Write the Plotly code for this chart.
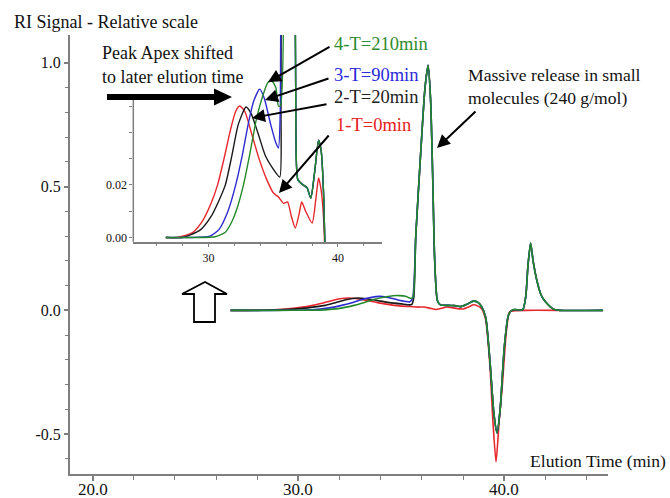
import plotly.graph_objects as go

# ---------------- data (elution time in min, RI signal relative) ----------------
red_t = [26.7, 27.5, 28.0, 28.8, 29.5, 30.2, 30.7, 31.2, 31.7, 32.1, 32.4, 32.8, 33.3, 33.9, 34.5,
         35.0, 35.4, 35.8, 36.1, 36.4, 36.7, 37.0, 37.2, 37.5, 38.0, 38.3, 38.5, 38.7, 38.9, 39.1,
         39.3, 39.45, 39.6, 39.75, 39.9, 40.1, 40.26, 40.5, 41.0, 42.7]
red_v = [0, 0, 0.0005, 0.002, 0.006, 0.013, 0.02, 0.03, 0.041, 0.048, 0.050, 0.048, 0.040, 0.030, 0.022,
         0.017, 0.0154, 0.013, 0.0135, 0.008, 0.0036, 0.009, 0.0135, 0.010, 0.0055, 0.015, 0.0226, 0.018, 0.006, -0.04,
         -0.22, -0.45, -0.612, -0.45, -0.31, -0.087, -0.006, -0.002, 0, 0]

late_t = [35.7, 35.95, 36.15, 36.3, 36.42, 36.52, 36.62, 36.75, 36.9, 37.3, 37.6, 37.9, 38.2, 38.5, 38.7,
          38.9, 39.1, 39.3, 39.5, 39.65, 39.8, 40.0, 40.2, 40.4, 40.9, 41.05, 41.15, 41.28, 41.4, 41.6,
          41.8, 42.0, 42.4, 42.7, 44.8]
late_v = [0.3, 0.65, 0.9, 0.99, 0.85, 0.55, 0.2, 0.04, 0.022, 0.02, 0.019, 0.015, 0.025, 0.037, 0.033,
          0.015, -0.03, -0.2, -0.42, -0.495, -0.4, -0.15, -0.02, 0.002, 0.003, 0.06, 0.18, 0.272, 0.2, 0.115,
          0.06, 0.035, 0.005, 0, 0]

black_t = [26.7, 28.0, 28.6, 29.4, 30.2, 30.8, 31.3, 31.8, 32.3, 32.9, 33.3, 33.8, 34.4, 35.0, 35.5, 35.6] + late_t
black_v = [0, 0, 0.001, 0.003, 0.008, 0.014, 0.02, 0.031, 0.043, 0.0496, 0.047, 0.04, 0.031, 0.026, 0.023, 0.05] + late_v

blue_t = [26.7, 28.5, 30.1, 30.8, 31.5, 32.1, 32.6, 33.1, 33.5, 33.95, 34.3, 34.8, 35.2, 35.4, 35.55] + late_t
blue_v = [0, 0, 0.0005, 0.003, 0.01, 0.02, 0.031, 0.044, 0.052, 0.0564, 0.053, 0.043, 0.036, 0.034, 0.05] + late_v

green_t = [26.7, 29.0, 30.5, 31.3, 31.8, 32.2, 32.7, 33.2, 33.7, 34.2, 34.6, 34.9, 35.2, 35.4, 35.55] + late_t
green_v = [0, 0, 0.0003, 0.002, 0.006, 0.011, 0.02, 0.032, 0.045, 0.054, 0.059, 0.0595, 0.057, 0.05, 0.05] + late_v

series_names = ["1-T=0min", "2-T=20min", "3-T=90min", "4-T=210min"]
series_t = [red_t, black_t, blue_t, green_t]
series_v = [red_v, black_v, blue_v, green_v]
line_colors = ["#e8262b", "#1a1a1a", "#2b2bd0", "#23892a"]
label_colors = ["#e82020", "#222222", "#2a2ad8", "#2e8b2e"]

main_tickvals = [20, 30, 40]
main_ticktext = ["20.0", "30.0", "40.0"]
main_ytickvals = [-0.5, 0.0, 0.5, 1.0]
main_yticktext = ["-0.5", "0.0", "0.5", "1.0"]
inset_tickvals = [30, 40]
inset_ticktext = ["30", "40"]
inset_ytickvals = [0.0, 0.02]
inset_yticktext = ["0.00", "0.02"]
inset_cut = 39.4

FONT = "Liberation Serif, Times New Roman, serif"
W, H = 670, 498
L, T, R, B = 70, 35, 62, 24
PW, PH = W - L - R, H - T - B


def px(x):
    return (x - L) / PW


def py(y):
    return (H - B - y) / PH


def path(points):
    s = "M " + " L ".join(f"{px(a):.5f},{py(b):.5f}" for a, b in points) + " Z"
    return s


fig = go.Figure()

# main traces
for name, t, v, c in zip(series_names, series_t, series_v, line_colors):
    fig.add_trace(go.Scatter(x=t, y=v, mode="lines", name=name,
                             line=dict(color=c, width=1.6, shape="spline", smoothing=0.6),
                             xaxis="x", yaxis="y", showlegend=False, hoverinfo="skip"))

# inset traces
for name, t, v, c in zip(series_names, series_t, series_v, line_colors):
    tt = [a for a in t if a <= inset_cut]
    vv = [b for a, b in zip(t, v) if a <= inset_cut]
    fig.add_trace(go.Scatter(x=tt, y=vv, mode="lines", name=name,
                             line=dict(color=c, width=1.4, shape="spline", smoothing=0.6),
                             xaxis="x2", yaxis="y2", showlegend=False, hoverinfo="skip"))

axis_col = "#7f7f7f"

fig.update_layout(
    width=W, height=H,
    margin=dict(l=L, r=R, t=T, b=B, autoexpand=False),
    paper_bgcolor="white", plot_bgcolor="rgba(0,0,0,0)",
    font=dict(family=FONT, color="#111111", size=16),
    xaxis=dict(domain=[0, 1], range=[18.9, 45.04], showline=True, linecolor=axis_col, linewidth=2,
               ticks="outside", ticklen=5, tickwidth=1.5, tickcolor=axis_col,
               tickvals=main_tickvals, ticktext=main_ticktext, showticklabels=False,
               minor=dict(tickvals=list(range(20, 45, 2)), ticks="outside", ticklen=4,
                          tickwidth=1, tickcolor=axis_col),
               showgrid=False, zeroline=False, anchor="y", automargin=False),
    yaxis=dict(domain=[0, 1], range=[-0.661, 1.112], showline=True, linecolor=axis_col, linewidth=2,
               ticks="outside", ticklen=4, tickwidth=1.5, tickcolor=axis_col,
               tickvals=main_ytickvals, ticktext=main_yticktext, tickfont=dict(size=16),
               minor=dict(tickvals=[round(-0.6 + 0.1 * i, 1) for i in range(17)], ticks="outside",
                          ticklen=3, tickwidth=1, tickcolor=axis_col),
               showgrid=False, zeroline=False, anchor="x", automargin=False),
    xaxis2=dict(domain=[px(133.3), px(382)], range=[24.19, 43.4], showline=True, linecolor=axis_col,
                linewidth=1.5, ticks="outside", ticklen=4, tickwidth=1, tickcolor=axis_col,
                tickvals=inset_tickvals, ticktext=inset_ticktext, tickfont=dict(size=12),
                minor=dict(tickvals=list(range(26, 44, 2)), ticks="outside", ticklen=3,
                           tickwidth=1, tickcolor=axis_col),
                showgrid=False, zeroline=False, anchor="y2", automargin=False),
    yaxis2=dict(domain=[py(241.7), 1.0], range=[-0.0016, 0.0770], showline=False,
                ticks="outside", ticklen=3, tickwidth=1, tickcolor=axis_col,
                tickvals=inset_ytickvals, ticktext=inset_yticktext, tickfont=dict(size=12),
                minor=dict(tickvals=[0.01, 0.03, 0.04, 0.05], ticks="outside", ticklen=3,
                           tickwidth=1, tickcolor=axis_col),
                showgrid=False, zeroline=False, anchor="x2", automargin=False),
)

shapes = []
# inset y-axis line
shapes.append(dict(type="line", xref="paper", yref="paper", x0=px(133.3), x1=px(133.3),
                   y0=py(100), y1=py(241.7), line=dict(color=axis_col, width=1.5)))
# big black arrow
shapes.append(dict(type="path", xref="paper", yref="paper",
                   path=path([(107, 94), (214, 94), (214, 88.5), (232, 97), (214, 105.5), (214, 100), (107, 100)]),
                   fillcolor="black", line=dict(color="black", width=0)))
# hollow up arrow
shapes.append(dict(type="path", xref="paper", yref="paper",
                   path=path([(194, 322), (194, 294), (182, 294), (205, 282), (227, 294), (215, 294), (215, 322)]),
                   fillcolor="white", line=dict(color="black", width=1.8)))
fig.update_layout(shapes=shapes)

ann = []


def text(x, y, s, color="#111111", size=18, anchor="left"):
    ann.append(dict(xref="paper", yref="paper", x=px(x), y=py(y), text=s, showarrow=False,
                    xanchor=anchor, yanchor="middle", font=dict(family=FONT, size=size, color=color)))


def arrow(tail, head):
    ann.append(dict(xref="paper", yref="paper", x=px(head[0]), y=py(head[1]), text="",
                    showarrow=True, ax=tail[0] - head[0], ay=tail[1] - head[1],
                    arrowhead=2, arrowsize=1.3, arrowwidth=2, arrowcolor="black", standoff=0))


# main x tick labels (placed on the data scale, nudged up to sit like the reference)
for v, s in zip(main_tickvals, main_ticktext):
    ann.append(dict(xref="x", yref="paper", x=v, y=py(489), text=s, showarrow=False,
                    xanchor="center", yanchor="middle", font=dict(family=FONT, size=17, color="#111111")))

text(12, 22, "RI Signal - Relative scale", size=18)
text(100, 53, "Peak Apex shifted", size=18)
text(100, 77, "to later elution time", size=18)
text(466, 75, "Massive release in small", size=17.6)
text(466, 98, "molecules (240 g/mol)", size=17.6)
text(668, 461, "Elution Time (min)", size=17.6, anchor="right")
text(332, 44, series_names[3], color=label_colors[3], size=18.5)
text(332, 75, series_names[2], color=label_colors[2], size=18.5)
text(332, 97, series_names[1], color=label_colors[1], size=18.5)
text(334, 125, series_names[0], color=label_colors[0], size=18.5)

arrow((331, 46), (268, 82))
arrow((330, 78), (265, 100))
arrow((328, 104), (252, 118))
arrow((330, 134), (279, 193))
arrow((477, 110), (437, 148))

fig.update_layout(annotations=ann)

fig.write_html("out.html", config={"displayModeBar": False},
               post_script="document.body.style.margin='0px';document.body.style.overflow='hidden';")
